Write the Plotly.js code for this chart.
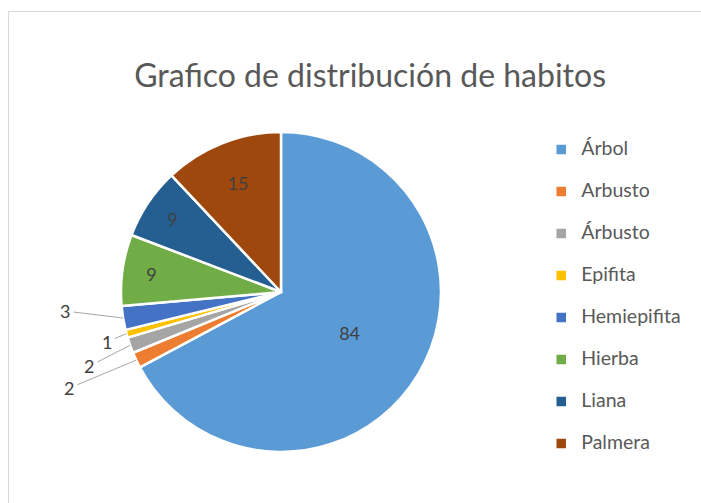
<!DOCTYPE html>
<html>
<head>
<meta charset="utf-8">
<script src="https://cdn.plot.ly/plotly-3.0.1.min.js"></script>
<style>
html,body{margin:0;padding:0;background:#fff;overflow:hidden;}
#chart{width:701px;height:503px;}
</style>
</head>
<body>
<div id="chart"></div>
<script>
var categories = ['Árbol', 'Arbusto', 'Árbusto', 'Epifita', 'Hemiepifita', 'Hierba', 'Liana', 'Palmera'];
var values = [84, 2, 2, 1, 3, 9, 9, 15];
var colors = ['#5B9BD5', '#ED7D31', '#A5A5A5', '#FFC000', '#4472C4', '#70AD47', '#255E91', '#9E480E'];
var chartTitle = 'Grafico de distribución de habitos';

var W = 701, H = 503;
var FONT = 'Lato, "Open Sans", sans-serif';
var SMALL = 5; // slices below this get an external label with a leader line

// pie placement (pixels)
var PIE_CX = 281, PIE_CY = 292, PIE_R = 160;

// offsets (pixels) of the external labels from the slice edge, by slice index
var labelOffsets = { 1: [-67, 28], 2: [-41, 21], 3: [-20, 8], 4: [-58, -7] };

var legendLabels = categories.map(function (c) {
  return '<span style="font-size:19.5px">' + c + '</span><br> ';
});
var templates = values.map(function (v) { return v >= SMALL ? '%{value}' : ''; });

var total = values.reduce(function (a, b) { return a + b; }, 0);
var annotations = [];
var cum = 0;
values.forEach(function (v, i) {
  var mid = cum + v / 2;
  cum += v;
  if (v >= SMALL) return;
  var th = mid / total * 2 * Math.PI;
  var px = PIE_CX + PIE_R * Math.sin(th);
  var py = PIE_CY - PIE_R * Math.cos(th);
  var off = labelOffsets[i] || [-40, 0];
  annotations.push({
    xref: 'paper', yref: 'paper',
    x: px / W, y: 1 - py / H,
    text: String(v),
    showarrow: true, arrowhead: 0, arrowwidth: 1, arrowcolor: '#a6a6a6',
    ax: off[0], ay: off[1], standoff: 0, startstandoff: 2,
    font: { family: FONT, size: 18, color: '#404040' }
  });
});

var trace = {
  type: 'pie',
  labels: legendLabels,
  values: values,
  sort: false,
  direction: 'clockwise',
  rotation: 0,
  marker: { colors: colors, line: { color: '#ffffff', width: 2.5 } },
  texttemplate: templates,
  textposition: 'inside',
  insidetextorientation: 'horizontal',
  insidetextfont: { family: FONT, size: 18, color: '#404040' },
  domain: {
    x: [(PIE_CX - PIE_R) / W, (PIE_CX + PIE_R) / W],
    y: [1 - (PIE_CY + PIE_R) / H, 1 - (PIE_CY - PIE_R) / H]
  },
  hoverinfo: 'none'
};

var layout = {
  width: W,
  height: H,
  margin: { l: 0, r: 0, t: 0, b: 0 },
  paper_bgcolor: '#ffffff',
  font: { family: FONT, color: '#595959' },
  title: {
    text: chartTitle,
    font: { family: FONT, size: 32, color: '#595959' },
    x: 0.528, xanchor: 'center',
    y: 0.85, yanchor: 'middle',
    xref: 'paper', yref: 'paper'
  },
  showlegend: true,
  legend: {
    font: { family: FONT, size: 15, color: '#595959' },
    x: 0.7721, xanchor: 'left',
    y: 0.735, yanchor: 'top',
    valign: 'top',
    bgcolor: 'rgba(0,0,0,0)'
  },
  annotations: annotations,
  shapes: [{
    type: 'rect', xref: 'paper', yref: 'paper',
    x0: 8.5 / W, x1: 1.2, y0: -0.2, y1: 1 - 11.5 / H,
    line: { color: '#d9d9d9', width: 1 }
  }]
};

Plotly.newPlot('chart', [trace], layout, { displayModeBar: false, staticPlot: true });
</script>
</body>
</html>
